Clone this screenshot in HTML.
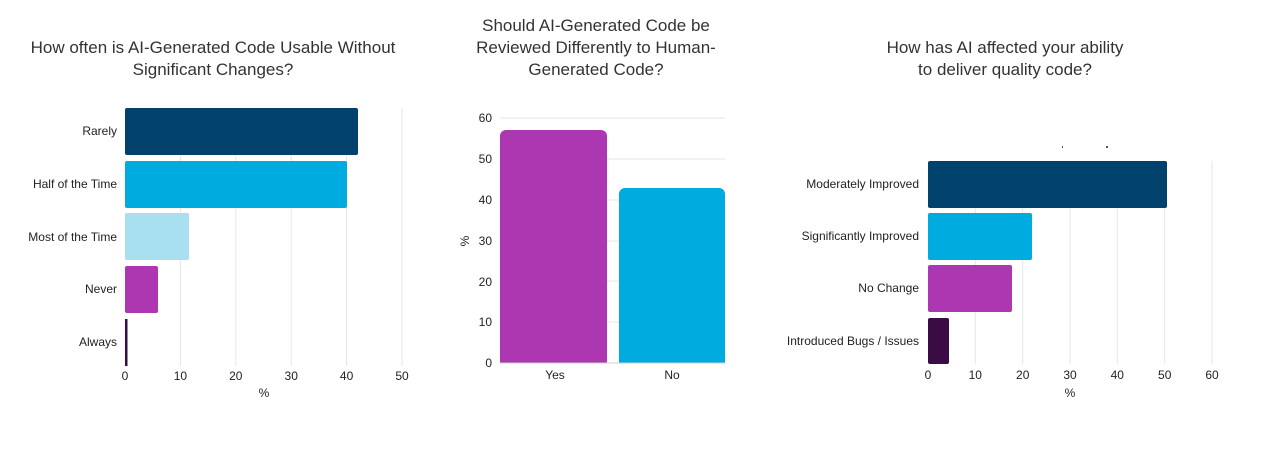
<!DOCTYPE html>
<html><head><meta charset="utf-8"><style>
body{margin:0;background:#fff;width:1264px;height:456px;overflow:hidden}
text{font-family:"Liberation Sans","DejaVu Sans",sans-serif;fill:#222}
.t{font-size:17px;fill:#333}
.s{font-size:12px}
.g{stroke:#e6e6e6;stroke-width:1}
</style></head><body>
<svg width="1264" height="456" xmlns="http://www.w3.org/2000/svg">
<!-- Chart 1 -->
<text class="t" x="213" y="53" text-anchor="middle">How often is AI-Generated Code Usable Without</text>
<text class="t" x="213" y="75" text-anchor="middle">Significant Changes?</text>
<g class="g">
<line x1="180.4" y1="108" x2="180.4" y2="366"/><line x1="235.8" y1="108" x2="235.8" y2="366"/>
<line x1="291.2" y1="108" x2="291.2" y2="366"/><line x1="346.6" y1="108" x2="346.6" y2="366"/>
<line x1="402" y1="108" x2="402" y2="366"/>
</g>
<rect x="125" y="108" width="233" height="47" rx="2" fill="#00426b"/>
<rect x="125" y="161" width="222" height="47" rx="2" fill="#00abdf"/>
<rect x="125" y="213" width="64" height="47" rx="2" fill="#a8e0ef"/>
<rect x="125" y="266" width="33" height="47" rx="2" fill="#ad37b0"/>
<rect x="125" y="319" width="2.5" height="47" fill="#3a0b45"/>
<g class="s" text-anchor="end">
<text x="117" y="135">Rarely</text><text x="117" y="188">Half of the Time</text>
<text x="117" y="241">Most of the Time</text><text x="117" y="293">Never</text>
<text x="117" y="346">Always</text></g>
<g class="s" text-anchor="middle">
<text x="125" y="380">0</text><text x="180.4" y="380">10</text><text x="235.8" y="380">20</text>
<text x="291.2" y="380">30</text><text x="346.6" y="380">40</text><text x="402" y="380">50</text>
<text x="264" y="397">%</text></g>
<!-- Chart 2 -->
<text class="t" x="596" y="31" text-anchor="middle">Should AI-Generated Code be</text>
<text class="t" x="596" y="53" text-anchor="middle">Reviewed Differently to Human-</text>
<text class="t" x="596" y="75" text-anchor="middle">Generated Code?</text>
<g class="g">
<line x1="500" y1="118" x2="725" y2="118"/><line x1="500" y1="159" x2="725" y2="159"/>
<line x1="500" y1="200" x2="725" y2="200"/><line x1="500" y1="241" x2="725" y2="241"/>
<line x1="500" y1="281" x2="725" y2="281"/><line x1="500" y1="322" x2="725" y2="322"/>
</g>
<path d="M500,363 V136 a6,6 0 0 1 6,-6 H601 a6,6 0 0 1 6,6 V363 Z" fill="#ad37b0"/>
<path d="M619,363 V194 a6,6 0 0 1 6,-6 H719 a6,6 0 0 1 6,6 V363 Z" fill="#00abdf"/>
<line x1="500" y1="363" x2="725" y2="363" stroke="#ccc"/>
<g class="s" text-anchor="end">
<text x="492" y="122">60</text><text x="492" y="163">50</text><text x="492" y="204">40</text>
<text x="492" y="245">30</text><text x="492" y="286">20</text><text x="492" y="326">10</text>
<text x="492" y="367">0</text></g>
<text class="s" x="0" y="0" text-anchor="middle" transform="translate(469,241) rotate(-90)">%</text>
<g class="s" text-anchor="middle"><text x="555" y="379">Yes</text><text x="672" y="379">No</text></g>
<!-- Chart 3 -->
<text class="t" x="1005" y="53" text-anchor="middle">How has AI affected your ability</text>
<text class="t" x="1005" y="75" text-anchor="middle">to deliver quality code?</text>
<g class="g">
<line x1="975.3" y1="161" x2="975.3" y2="364"/><line x1="1022.7" y1="161" x2="1022.7" y2="364"/>
<line x1="1070" y1="161" x2="1070" y2="364"/><line x1="1117.3" y1="161" x2="1117.3" y2="364"/>
<line x1="1164.7" y1="161" x2="1164.7" y2="364"/><line x1="1212" y1="161" x2="1212" y2="364"/>
</g>
<rect x="1062" y="146" width="1" height="2" fill="#555"/><rect x="1106" y="146" width="2" height="2" fill="#555"/>
<rect x="928" y="161" width="239" height="47" rx="2" fill="#00426b"/>
<rect x="928" y="213" width="104" height="47" rx="2" fill="#00abdf"/>
<rect x="928" y="265" width="84" height="47" rx="2" fill="#ad37b0"/>
<rect x="928" y="318" width="21" height="46" rx="2" fill="#3a0b45"/>
<g class="s" text-anchor="end">
<text x="919" y="188">Moderately Improved</text><text x="919" y="240">Significantly Improved</text>
<text x="919" y="292">No Change</text><text x="919" y="345">Introduced Bugs / Issues</text></g>
<g class="s" text-anchor="middle">
<text x="928" y="379">0</text><text x="975.3" y="379">10</text><text x="1022.7" y="379">20</text>
<text x="1070" y="379">30</text><text x="1117.3" y="379">40</text><text x="1164.7" y="379">50</text>
<text x="1212" y="379">60</text><text x="1070" y="397">%</text></g>
</svg>
</body></html>
